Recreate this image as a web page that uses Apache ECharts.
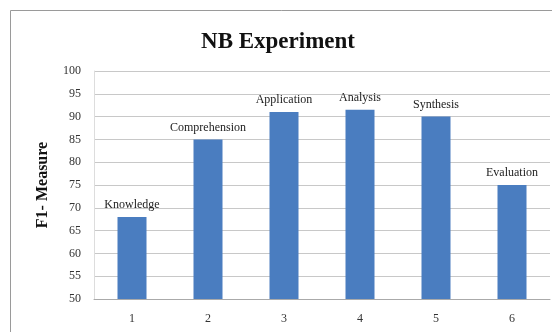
<!DOCTYPE html>
<html>
<head>
<meta charset="utf-8">
<script src="https://cdn.jsdelivr.net/npm/echarts@6/dist/echarts.min.js"></script>
<style>
  html, body { margin: 0; padding: 0; background: #fff; }
  #chart { width: 552px; height: 332px; }
</style>
</head>
<body>
<div id="chart"></div>
<script>
const categories = ['1', '2', '3', '4', '5', '6']
const levels = ['Knowledge', 'Comprehension', 'Application', 'Analysis', 'Synthesis', 'Evaluation']
const f1Values = [68, 85, 91, 91.5, 90, 75]

const chart = echarts.init(document.getElementById('chart'))
chart.setOption({
  backgroundColor: '#fff',
  animation: false,
  title: {
    text: 'NB Experiment',
    left: 273,
    top: 26,
    textAlign: 'center',
    textStyle: { fontFamily: 'Liberation Serif', fontSize: 23, fontWeight: 'bold', color: '#111' }
  },
  graphic: [
    {
      type: 'rect',
      shape: { x: 10.5, y: 10.5, width: 560, height: 340 },
      style: { fill: 'none', stroke: '#9a9a9a', lineWidth: 1 }
    }
  ],
  grid: { left: 94, right: 2, top: 71, bottom: 33 },
  xAxis: {
    type: 'category',
    data: categories,
    axisLine: { lineStyle: { color: '#aaa' } },
    axisTick: { show: false },
    axisLabel: { color: '#333', fontFamily: 'Liberation Serif', fontSize: 12, margin: 14 }
  },
  yAxis: {
    type: 'value',
    min: 50,
    max: 100,
    interval: 5,
    name: 'F1- Measure',
    nameLocation: 'middle',
    nameGap: 43,
    nameTextStyle: { fontFamily: 'Liberation Serif', fontSize: 16, fontWeight: 'bold', color: '#111' },
    axisLine: { show: true, lineStyle: { color: '#ddd' } },
    axisTick: { show: false },
    axisLabel: { color: '#333', fontFamily: 'Liberation Serif', fontSize: 12, margin: 13 },
    splitLine: { lineStyle: { color: '#c8c8c8' } }
  },
  series: [
    {
      type: 'bar',
      data: f1Values,
      barWidth: 29,
      itemStyle: { color: '#4a7dc0' },
      label: {
        show: true,
        position: 'top',
        distance: 6,
        formatter: p => levels[p.dataIndex],
        fontFamily: 'Liberation Serif',
        fontSize: 12,
        color: '#222'
      }
    }
  ]
})
</script>
</body>
</html>
